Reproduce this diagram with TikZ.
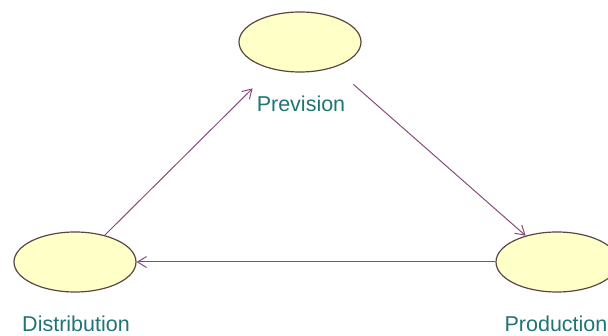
\documentclass[tikz,border=0pt]{standalone}
\usepackage{fontspec}
\setmainfont{Liberation Sans}
\usepackage{tikz}
\usetikzlibrary{arrows.meta,positioning,shapes.geometric,calc}
\definecolor{ucfill}{HTML}{FFFFC8}
\definecolor{ucline}{HTML}{5A4646}
\definecolor{uctext}{HTML}{1F7575}
\definecolor{flowline}{HTML}{8A4B7A}

\begin{document}
\begin{tikzpicture}[
  x=1pt, y=-1pt,
  >={Straight Barb[length=9pt,width=11pt]},
  font=\fontsize{21.5}{24}\selectfont,
  usecase/.style={
    ellipse,
    draw=ucline,
    fill=ucfill,
    line width=1.2pt,
    minimum width=122pt,
    minimum height=60pt,
    inner sep=0pt
  },
  caption/.style={text=uctext,inner sep=0pt},
  flow/.style={->,draw=flowline,line width=1pt}
]
\useasboundingbox (0,0) rectangle (608,336);

\node[usecase] (prevision) at (300,42) {};
\node[usecase] (distribution) at (75,262) {};
\node[usecase] (production) at (557,262) {};

\node[caption] (previsionlbl) at (301,103.5) {Prevision};
\node[caption] (distributionlbl) at (76,323.5) {Distribution};
\node[caption] (productionlbl) at (556,323.5) {Production};

\draw[flow] (distribution.42) -- ($(previsionlbl.north west)+(-4,-7)$);
\draw[flow] ($(previsionlbl.north east)+(8,-11)$) -- (production.140);
\draw[flow] (production.west) -- (distribution.east);
\end{tikzpicture}
\end{document}
